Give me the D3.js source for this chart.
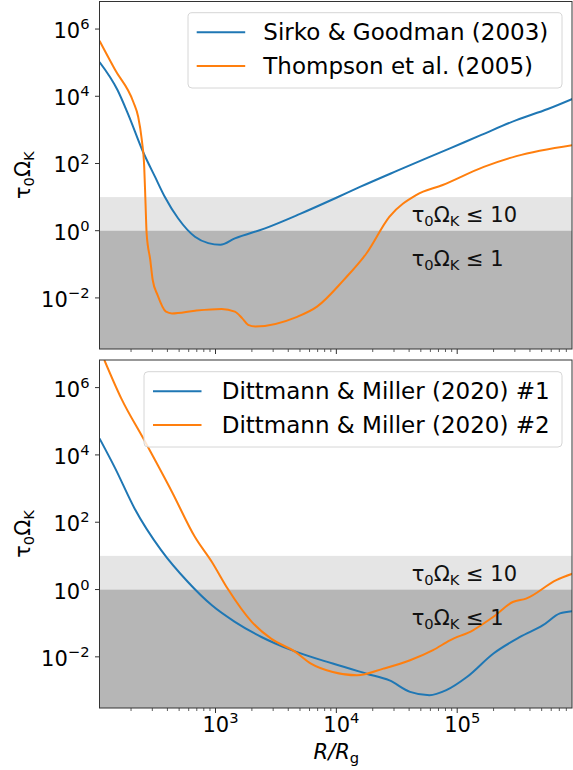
<!DOCTYPE html>
<html>
<head>
<meta charset="utf-8">
<script src="https://cdn.jsdelivr.net/npm/d3@7"></script>
<style>
  body { margin: 0; background: #fff; }
  svg { display: block; font-family: "DejaVu Sans", sans-serif; }
</style>
</head>
<body>
<svg id="chart" width="573" height="770"></svg>
<script>
// values, stored as log10 exponents
const sgLogR   = [2.04, 2.19, 2.28, 2.40, 2.50, 2.58, 2.69, 2.83, 2.94, 3.04, 3.16, 3.41, 3.70, 4.00, 4.20, 4.50, 4.94, 5.20, 5.49, 5.75, 5.96];
const sgLogTau = [5.02, 4.18, 3.44, 2.35, 1.60, 1.01, 0.37, -0.18, -0.37, -0.42, -0.23, 0.07, 0.50, 0.98, 1.31, 1.78, 2.45, 2.85, 3.29, 3.62, 3.93];

const thLogR   = [2.04, 2.17, 2.32, 2.36, 2.39, 2.41, 2.42, 2.43, 2.46, 2.48, 2.52, 2.59, 2.64, 2.83, 3.05, 3.16, 3.22, 3.27, 3.33, 3.67, 3.84, 4.06, 4.25, 4.44, 4.66, 4.88, 5.22, 5.49, 5.96];
const thLogTau = [5.65, 4.78, 3.83, 3.39, 2.70, 1.90, 0.91, -0.08, -0.87, -1.46, -1.91, -2.41, -2.46, -2.38, -2.33, -2.41, -2.60, -2.80, -2.85, -2.57, -2.26, -1.47, -0.67, 0.42, 1.06, 1.36, 1.90, 2.22, 2.55];

const dm1LogR   = [2.04, 2.17, 2.33, 2.55, 2.77, 2.97, 3.16, 3.38, 3.63, 3.97, 4.25, 4.44, 4.61, 4.77, 4.91, 5.08, 5.30, 5.52, 5.71, 5.85, 5.96];
const dm1LogTau = [4.49, 3.60, 2.41, 1.17, 0.23, -0.47, -0.96, -1.41, -1.80, -2.20, -2.50, -2.70, -3.04, -3.14, -2.99, -2.60, -1.90, -1.41, -1.06, -0.71, -0.64];

const dm2LogR   = [2.08, 2.22, 2.41, 2.64, 2.83, 2.97, 3.10, 3.30, 3.46, 3.66, 3.79, 3.97, 4.17, 4.39, 4.61, 4.80, 4.94, 5.13, 5.30, 5.46, 5.57, 5.82, 5.96];
const dm2LogTau = [6.82, 5.68, 4.44, 2.90, 1.56, 0.82, 0.03, -0.96, -1.46, -1.85, -2.20, -2.45, -2.55, -2.35, -2.10, -1.80, -1.51, -1.21, -0.81, -0.37, -0.27, 0.28, 0.48];

const xTickExps = [3, 4, 5];
const yTickExps = [-2, 0, 2, 4, 6];
const bands = [10, 1]; // tau0*OmegaK thresholds

const blue = '#1f77b4';
const orange = '#ff7f0e';

const toPts = (lx, ly) => lx.map((v, i) => [10 ** v, 10 ** ly[i]]);

const panels = [
  {
    top: 1.5, bottom: 349,
    series: [
      { name: 'Sirko & Goodman (2003)', color: blue, pts: toPts(sgLogR, sgLogTau) },
      { name: 'Thompson et al. (2005)', color: orange, pts: toPts(thLogR, thLogTau) }
    ],
    legend: { x0: 188, y0: 12.7, w: 374, h: 75.3, lineX: 8.7, textX: 75.3 },
    xLabels: false
  },
  {
    top: 360, bottom: 708,
    series: [
      { name: 'Dittmann & Miller (2020) #1', color: blue, pts: toPts(dm1LogR, dm1LogTau) },
      { name: 'Dittmann & Miller (2020) #2', color: orange, pts: toPts(dm2LogR, dm2LogTau) }
    ],
    legend: { x0: 144, y0: 371.7, w: 418, h: 75.3, lineX: 9, textX: 77.7 },
    xLabels: true
  }
];

const svg = d3.select('#chart');
const left = 99.5, right = 572;
const fs = 21;

const x = d3.scaleLog().domain([10 ** 2.04, 10 ** 5.95]).range([left, right]);

// minor tick values: 2..9 x 10^n
const minorX = [];
for (let e = 2; e <= 5; e++) {
  for (let m = 2; m <= 9; m++) {
    const v = m * 10 ** e;
    if (v >= x.domain()[0] && v <= x.domain()[1]) minorX.push(v);
  }
}

const powText = (sel, base, exp, anchor) => {
  const t = sel.append('text').attr('text-anchor', anchor).attr('font-size', fs).attr('fill', '#000');
  t.append('tspan').text(base);
  t.append('tspan').attr('font-size', fs * 0.7).attr('dy', -fs * 0.42).text(exp);
  return t;
};

const tauLabel = (sel, suffix) => {
  sel.append('tspan').text('τ');
  sel.append('tspan').attr('font-size', fs * 0.7).attr('dy', fs * 0.2).text('0');
  sel.append('tspan').attr('dy', -fs * 0.2).text('Ω');
  sel.append('tspan').attr('font-size', fs * 0.7).attr('dy', fs * 0.2).text('K');
  if (suffix) sel.append('tspan').attr('dy', -fs * 0.2).text(suffix);
};

panels.forEach((p, pi) => {
  const y = d3.scaleLog().domain([10 ** -3.52, 10 ** 6.82]).range([p.bottom, p.top]);
  const g = svg.append('g');

  const clipId = 'clip' + pi;
  g.append('clipPath').attr('id', clipId)
    .append('rect').attr('x', left).attr('y', p.top).attr('width', right - left).attr('height', p.bottom - p.top);

  // shaded bands
  g.append('rect').attr('x', left).attr('width', right - left)
    .attr('y', y(bands[0])).attr('height', y(bands[1]) - y(bands[0]))
    .attr('fill', '#e5e5e5');
  g.append('rect').attr('x', left).attr('width', right - left)
    .attr('y', y(bands[1])).attr('height', p.bottom - y(bands[1]))
    .attr('fill', '#b6b6b6');

  // curves
  const line = d3.line().x(d => x(d[0])).y(d => y(d[1])).curve(d3.curveMonotoneX);
  p.series.forEach(s => {
    g.append('path').attr('d', line(s.pts))
      .attr('clip-path', `url(#${clipId})`)
      .attr('fill', 'none').attr('stroke', s.color).attr('stroke-width', 2);
  });

  // band texts
  const b10 = g.append('text').attr('x', 411.7).attr('y', y(1) - 9).attr('font-size', fs).attr('fill', '#111');
  tauLabel(b10, ' ≤ 10');
  const b1 = g.append('text').attr('x', 411.7).attr('y', y(1) + 35).attr('font-size', fs).attr('fill', '#111');
  tauLabel(b1, ' ≤ 1');

  // frame
  g.append('rect').attr('x', left).attr('y', p.top).attr('width', right - left).attr('height', p.bottom - p.top)
    .attr('fill', 'none').attr('stroke', '#333').attr('stroke-width', 1);

  // x ticks
  g.selectAll('.xmaj').data(xTickExps).enter().append('line')
    .attr('x1', d => x(10 ** d)).attr('x2', d => x(10 ** d))
    .attr('y1', p.bottom).attr('y2', p.bottom + 5).attr('stroke', '#333');
  g.selectAll('.xmin').data(minorX).enter().append('line')
    .attr('x1', d => x(d)).attr('x2', d => x(d))
    .attr('y1', p.bottom).attr('y2', p.bottom + 3).attr('stroke', '#333').attr('stroke-width', 0.8);
  if (p.xLabels) {
    xTickExps.forEach(e => {
      powText(g, '10', String(e), 'middle').attr('x', x(10 ** e) + 5).attr('y', p.bottom + 24);
    });
  }

  // y ticks
  yTickExps.forEach(e => {
    const yy = y(10 ** e);
    g.append('line').attr('x1', left - 4.5).attr('x2', left).attr('y1', yy).attr('y2', yy).attr('stroke', '#333');
    const lab = e < 0 ? '−' + Math.abs(e) : String(e);
    powText(g, '10', lab, 'end').attr('x', left - 10).attr('y', yy + 9);
  });

  // y label
  const yl = g.append('text').attr('font-size', fs).attr('text-anchor', 'middle').attr('fill', '#000')
    .attr('transform', `translate(30,${(p.top + p.bottom) / 2}) rotate(-90)`);
  tauLabel(yl, null);

  // legend
  const L = p.legend;
  const lg = g.append('g').attr('transform', `translate(${L.x0},${L.y0})`);
  lg.append('rect').attr('width', L.w).attr('height', L.h).attr('rx', 4)
    .attr('fill', 'rgba(255,255,255,0.8)').attr('stroke', '#d6d6d6');
  p.series.forEach((s, i) => {
    const ly = 19.6 + i * 33.7;
    lg.append('line').attr('x1', L.lineX).attr('x2', L.lineX + 48.5).attr('y1', ly).attr('y2', ly)
      .attr('stroke', s.color).attr('stroke-width', 2);
    lg.append('text').attr('x', L.textX).attr('y', ly + 8).attr('font-size', 23).attr('fill', '#000').text(s.name);
  });
});

// x axis label (R italic, subscript g upright)
const xl = svg.append('text').attr('x', x(10 ** 4)).attr('y', 759).attr('text-anchor', 'middle')
  .attr('font-size', fs);
xl.append('tspan').attr('font-style', 'italic').text('R/R');
xl.append('tspan').attr('font-size', fs * 0.7).attr('dy', fs * 0.2).text('g');
</script>
</body>
</html>
